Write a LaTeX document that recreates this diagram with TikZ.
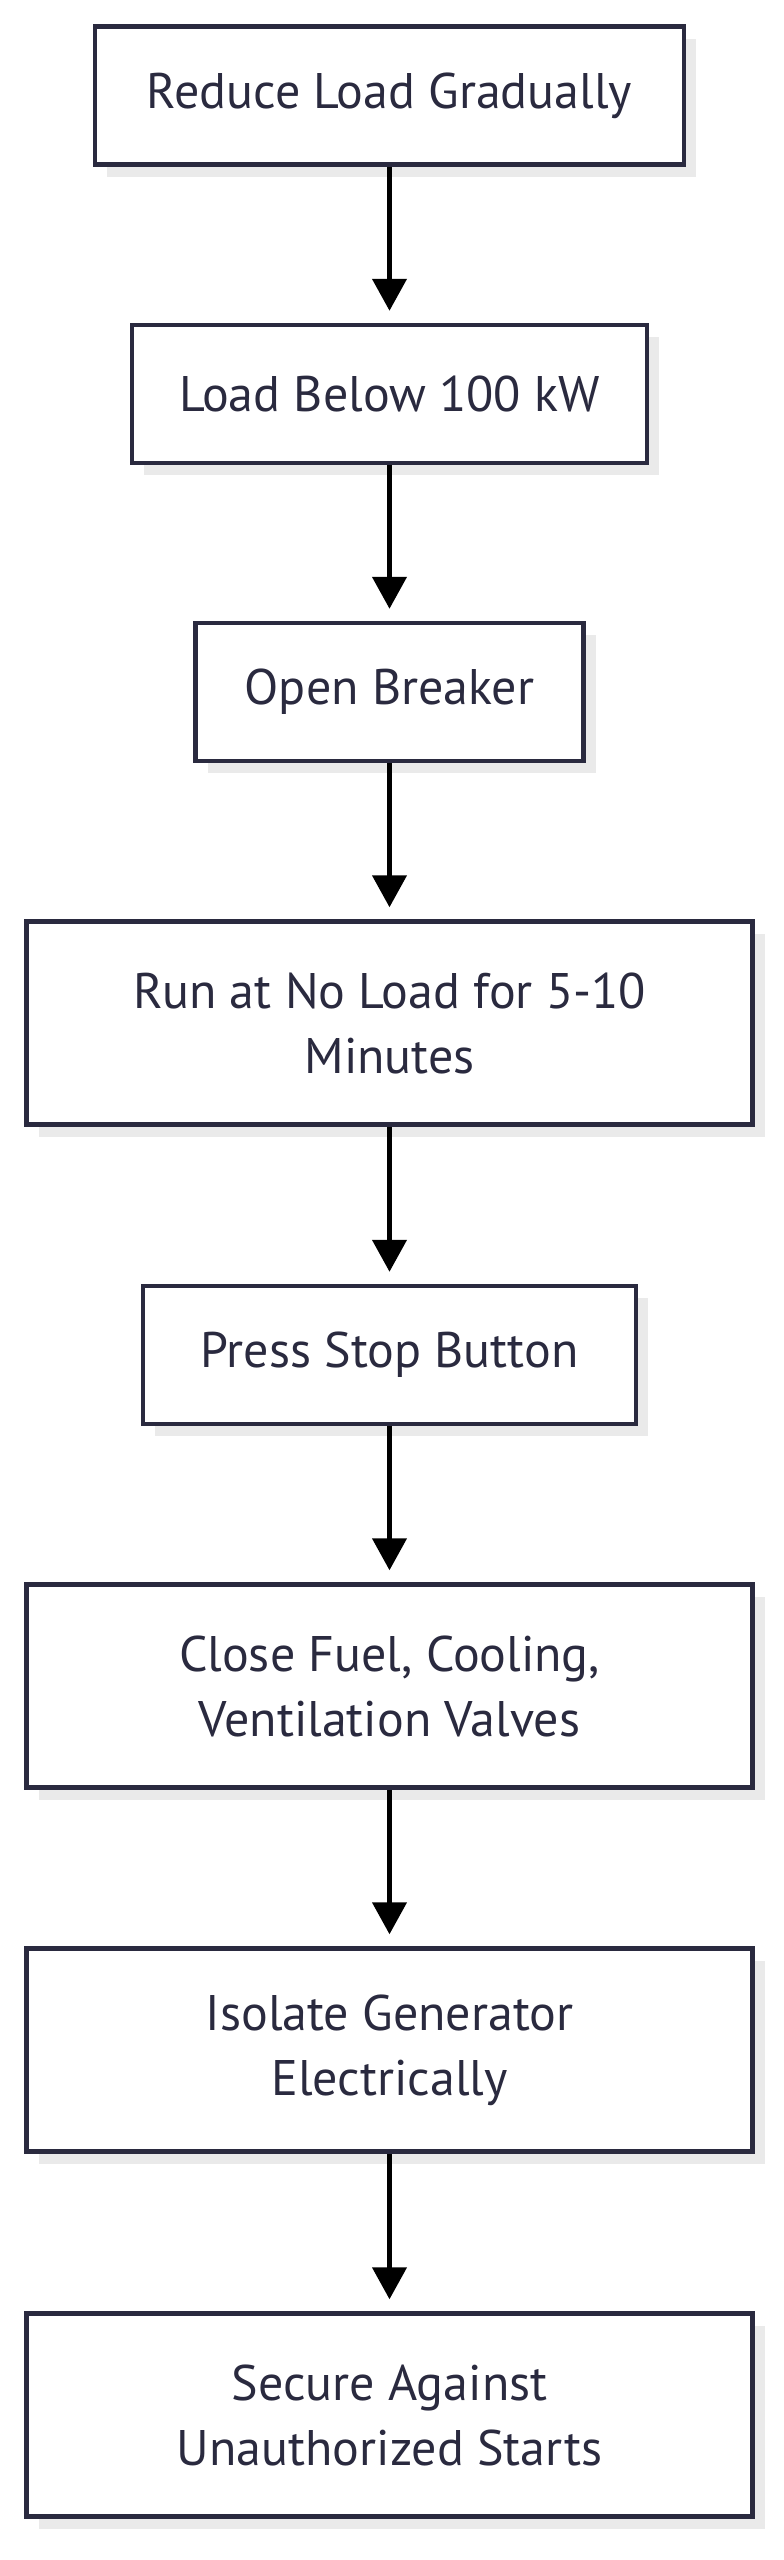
\documentclass[tikz,border=0pt]{standalone}
\usepackage{fontspec}
\setmainfont{PT Sans}
\usetikzlibrary{arrows.meta,shadows}
\definecolor{boxline}{HTML}{2A2A3F}
\definecolor{boxshade}{HTML}{EAEAEA}

\begin{document}
\begin{tikzpicture}[x=1pt,y=1pt]

	\tikzstyle{stepbox}=[draw=boxline,line width=4.5pt,fill=white,text=boxline,align=center,
		font=\fontsize{50}{65}\selectfont,
		drop shadow={shadow xshift=12pt,shadow yshift=-12pt,fill=boxshade,opacity=1}]
	\tikzstyle{myarrow}=[line width=4.5pt,-{Triangle[width=34pt,length=32pt]},shorten >=12pt]

	\useasboundingbox (0,0) rectangle (784,-2560);

	\foreach \n / \y / \w / \h / \t in {
		reduce/-95.5/589/138/{Reduce Load Gradually},
		below/-394/515/138/{Load Below 100 kW},
		breaker/-692/388/138/{Open Breaker},
		noload/-1023/726/203/{Run at No Load for 5-10\\Minutes},
		stop/-1355/493/138/{Press Stop Button},
		valves/-1686/726/203/{Close Fuel, Cooling,\\Ventilation Valves},
		isolate/-2050/726/203/{Isolate Generator\\Electrically},
		secure/-2415/726/203/{Secure Against\\Unauthorized Starts}}
	{ \node[stepbox,minimum width=\w,minimum height=\h] (\n) at (389.5,\y) {\t}; }

	\foreach \a / \b in {reduce/below,below/breaker,breaker/noload,noload/stop,stop/valves,valves/isolate,isolate/secure}
	{ \draw[myarrow] (\a) -- (\b); }
\end{tikzpicture}
\end{document}
